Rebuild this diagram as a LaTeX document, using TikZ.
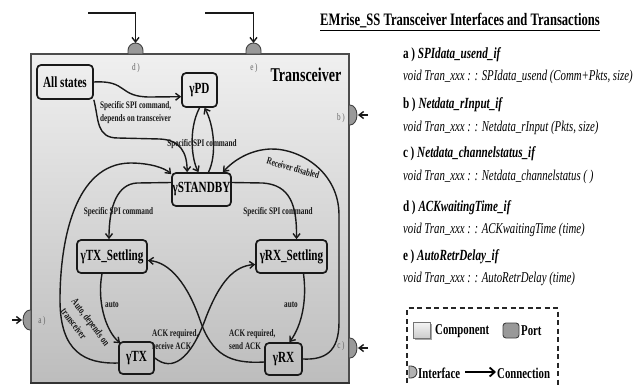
\documentclass[tikz,border=0pt]{standalone}
\usepackage{fontspec}
\setmainfont{Liberation Serif}[FakeStretch=0.72]
\usetikzlibrary{arrows.meta,calc}

\tikzset{
  state/.style={draw=black!90, line width=1.7pt, rounded corners=4pt, inner sep=0pt,
    font=\bfseries\fontsize{15.5}{16}\selectfont},
  conn/.style={draw=black!90, line width=1.4pt, -{Straight Barb[length=4.5pt,width=7pt]}},
  lbl/.style={font=\bfseries\fontsize{10}{13}\selectfont, inner sep=0pt, text=black!90},
  portlbl/.style={font=\fontsize{10}{11}\selectfont, text=black!62, inner sep=0pt},
  port/.style={fill=black!40, draw=black!75, line width=0.9pt},
  desc/.style={anchor=west, inner sep=0pt, font=\fontsize{15}{16}\selectfont},
  deschead/.style={anchor=west, inner sep=0pt, font=\bfseries\fontsize{15.5}{16}\selectfont},
  legtext/.style={anchor=west, inner sep=0pt, font=\bfseries\fontsize{15}{16}\selectfont},
}

\begin{document}
\begin{tikzpicture}[x=1pt,y=-1pt]
\useasboundingbox (0,0) rectangle (635,384);

% component body
\shade[top color=gray!12, bottom color=gray!52] (31,54) rectangle (349,383);
\draw[draw=black!70, line width=1.1pt] (31,383) -- (31,54) -- (349,54) -- (349,383);
\draw[draw=black!80, line width=2.2pt] (30,383) -- (350,383);
\node[font=\bfseries\fontsize{19.5}{20}\selectfont, inner sep=0pt] (comp) at (306,75) {Transceiver};

% ports on the top edge
\foreach \px in {135.5, 253.5}{
  \path[port] (\px-7.5,54) -- (\px-7.5,50.5) arc[start angle=180, end angle=360, radius=7.5] -- (\px+7.5,54) -- cycle;
}
\coordinate (pd0) at (88,13);
\coordinate (pd1) at (135.5,43);
\coordinate (pe0) at (205,13);
\coordinate (pe1) at (253.5,43);
\draw[conn] (pd0) -| (pd1);
\draw[conn] (pe0) -| (pe1);
\node[portlbl] (ld) at (136,68) {d\,)};
\node[portlbl] (le) at (254,68) {e\,)};

% ports on the side edges
\path[port] (349,105) -- (350,105) arc[start angle=270, end angle=450, x radius=7, y radius=10] -- (349,125) -- cycle;
\path[port] (349,338) -- (350,338) arc[start angle=270, end angle=450, x radius=7, y radius=10] -- (349,358) -- cycle;
\path[port] (31,310) -- (30,310) arc[start angle=270, end angle=90, x radius=7, y radius=10] -- (31,330) -- cycle;
\coordinate (pb0) at (368,115);
\coordinate (pb1) at (358,115);
\coordinate (pc0) at (368,348);
\coordinate (pc1) at (358,348);
\coordinate (pa0) at (12,320);
\coordinate (pa1) at (22,320);
\draw[conn] (pb0) -- (pb1);
\draw[conn] (pc0) -- (pc1);
\draw[conn] (pa0) -- (pa1);
\node[portlbl] (lb) at (341,118) {b\,)};
\node[portlbl] (lc) at (341,346) {c\,)};
\node[portlbl] (la) at (42,321) {a\,)};

% states
\node[state, minimum width=56pt, minimum height=34pt] (allst) at (65,82) {All states};
\node[state, minimum width=35pt, minimum height=34pt] (pd) at (199.5,90) {γPD};
\node[state, minimum width=59pt, minimum height=33pt] (sb) at (201.5,189.5) {γSTANDBY};
\node[state, minimum width=70pt, minimum height=33pt] (txs) at (112,256.5) {γTX\_Settling};
\node[state, minimum width=71pt, minimum height=33pt] (rxs) at (291.5,256.5) {γRX\_Settling};
\node[state, minimum width=35pt, minimum height=32pt] (tx) at (136.5,358) {γTX};
\node[state, minimum width=37pt, minimum height=32pt] (rx) at (283.5,359) {γRX};

% transitions
\draw[conn] (allst.east) .. controls (128,80) and (118,97) .. (150,97) -- (pd.200);
\draw[conn] (allst.south east) .. controls (99,120) and (96,138) .. (118,138)
   -- (160,139) .. controls (180,140) and (187,152) .. ([xshift=16pt]sb.north west);
\draw[conn] (pd.south) .. controls (188,130) and (192,160) .. ([xshift=-3pt]sb.north);
\draw[conn] ([xshift=7pt]sb.north) .. controls (217,155) and (214,125) .. ([xshift=5pt]pd.south);
\draw[conn] ([yshift=-5pt]tx.west) .. controls (85,364) and (60,352) .. (60,300)
   .. controls (60,240) and (75,164) .. (130,163) .. controls (150,163) and (165,168) .. ([yshift=-2pt]sb.north west);
\draw[conn] ([yshift=7pt]sb.west) -- (137,183) .. controls (118,184) and (109,205) .. ([xshift=-3pt]txs.north);
\draw[conn] ([yshift=7pt]sb.east) -- (263,183) .. controls (290,185) and (297,205) .. ([xshift=5pt]rxs.north);
\draw[conn] (rx.east) .. controls (325,360) and (339,352) .. (339,322) -- (339,215)
   .. controls (339,172) and (300,148) .. (270,149)
   .. controls (250,150) and (234,160) .. ([xshift=-9pt]sb.north east);
\draw[conn] ([xshift=-10pt]txs.south) .. controls (97,300) and (105,330) .. ([xshift=2pt,yshift=-2pt]tx.north west);
\draw[conn] ([xshift=12pt]rxs.south) .. controls (307,300) and (302,325) .. ([xshift=6pt]rx.north);
\draw[conn] (tx.east) .. controls (172,372) and (190,360) .. (205,320)
   .. controls (220,280) and (235,266) .. ([yshift=-8pt]rxs.west);
\draw[conn] ([yshift=-3pt]rx.west) .. controls (230,364) and (212,355) .. (200,320)
   .. controls (188,285) and (170,262) .. ([yshift=-4pt]txs.east);

% transition labels
\node[lbl, anchor=west, align=left] (t1) at (100,112.5) {Specific SPI command,\\depends on transceiver};
\node[lbl] (t2) at (202,144) {Specific SPI command};
\node[lbl] (t3) at (118.5,212) {Specific SPI command};
\node[lbl] (t4) at (278,212) {Specific SPI command};
\node[lbl, rotate=-16] (t5) at (293,168) {Receiver disabled};
\node[lbl] (t6) at (112,305) {auto};
\node[lbl] (t7) at (291,305) {auto};
\node[lbl, anchor=west, align=left] (t8) at (152,340) {ACK required,\\receive ACK};
\node[lbl, anchor=west, align=left] (t9) at (229,340) {ACK required,\\send ACK};
\node[lbl, rotate=-53, anchor=west, font=\bfseries\fontsize{10.5}{12}\selectfont] (t10) at (73,300) {Auto, depends on};
\node[lbl, rotate=-53, anchor=west, font=\bfseries\fontsize{10.5}{12}\selectfont] (t11) at (63,309) {transceiver};

% interface descriptions
\node[anchor=west, inner sep=0pt, font=\bfseries\fontsize{17.5}{18}\selectfont] (title) at (320,22)
  {\underline{EMrise\_SS Transceiver Interfaces and Transactions}};
\node[deschead] (ha) at (403,55) {a\,) \textit{SPIdata\_usend\_if}};
\node[desc] (va) at (403,77) {\textit{void Tran\_xxx : : SPIdata\_usend (Comm+Pkts, size)}};
\node[deschead] (hb) at (403,105) {b\,) \textit{Netdata\_rInput\_if}};
\node[desc] (vb) at (403,128) {\textit{void Tran\_xxx : : Netdata\_rInput (Pkts, size)}};
\node[deschead] (hc) at (403,154) {c\,) \textit{Netdata\_channelstatus\_if}};
\node[desc] (vc) at (403,177) {\textit{void Tran\_xxx : : Netdata\_channelstatus ( )}};
\node[deschead] (hd) at (403,208) {d\,) \textit{ACKwaitingTime\_if}};
\node[desc] (vd) at (403,230) {\textit{void Tran\_xxx : : ACKwaitingTime (time)}};
\node[deschead] (he) at (403,257) {e\,) \textit{AutoRetrDelay\_if}};
\node[desc] (ve) at (403,279) {\textit{void Tran\_xxx : : AutoRetrDelay (time)}};

% legend
\begin{scope}
\clip (0,0) rectangle (635,384);
\draw[black!85, line width=1.3pt, dash pattern=on 5pt off 3.5pt] (407,400) -- (407,308) -- (558,308) -- (558,400);
\end{scope}
\fill[black!35] (415,324) rectangle (432,340);
\shade[top color=gray!8, bottom color=gray!40, draw=black!55, line width=0.7pt] (413,322) rectangle (430,338);
\node[legtext] (lgc) at (435,331) {Component};
\path[port, rounded corners=3pt] (503,323) rectangle (519,338);
\node[legtext] (lgp) at (521,331) {Port};
\path[port, fill=black!30] (409,366) -- (411,366) arc[start angle=270, end angle=450, radius=6] -- (409,378) -- cycle;
\node[legtext] (lgi) at (418,373) {Interface};
\coordinate (lc0) at (465,372);
\coordinate (lc1) at (496,372);
\draw[black, line width=1.8pt, -{Straight Barb[length=5pt,width=9pt]}] (lc0) -- (lc1);
\node[legtext] (lgn) at (497,373) {Connection};
\end{tikzpicture}
\end{document}
